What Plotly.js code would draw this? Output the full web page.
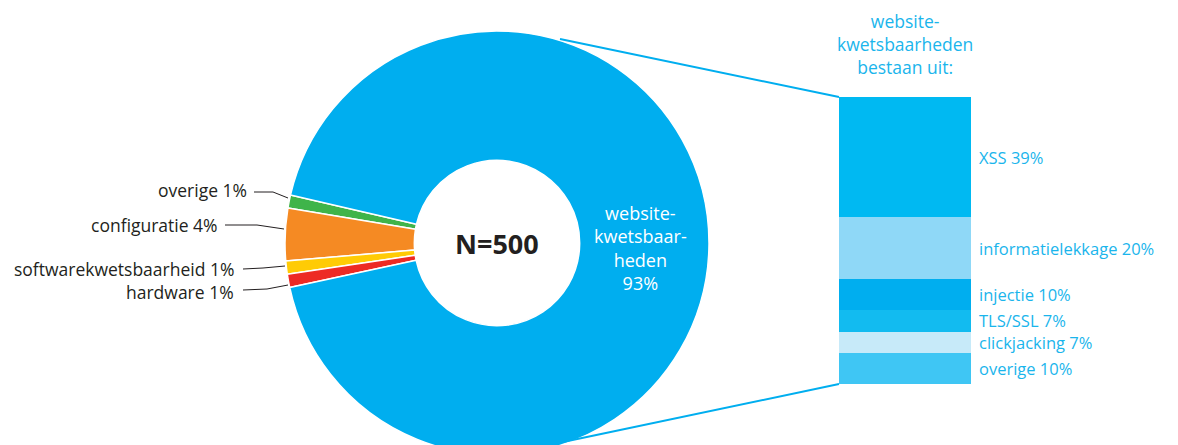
<!DOCTYPE html>
<html>
<head>
<meta charset="utf-8">
<script src="https://cdn.plot.ly/plotly-3.0.1.min.js"></script>
<style>
html,body{margin:0;padding:0;overflow:hidden;background:#fff;width:1178px;height:445px;}
#chart{width:1178px;height:470px;}
</style>
</head>
<body>
<div id="chart"></div>
<script>
// ---- data ----
var pieLabels = ['overige', 'configuratie', 'softwarekwetsbaarheid', 'hardware', 'website-kwetsbaarheden'];
var pieValues = [1, 4, 1, 1, 93];
var pieColors = ['#3fb44a', '#f58a23', '#ffcb05', '#ed2a24', '#00aeef'];
var pieTexts = ['overige 1%', 'configuratie 4%', 'softwarekwetsbaarheid 1%', 'hardware 1%', 'website-<br>kwetsbaar-<br>heden<br>93%'];

var barLabels = ['XSS', 'informatielekkage', 'injectie', 'TLS/SSL', 'clickjacking', 'overige'];
var barValues = [39, 20, 10, 7, 7, 10];
var barColors = ['#00b9f2', '#8fd8f7', '#00aeef', '#12bbf0', '#c7eaf9', '#3fc6f4'];
var barTitle = 'website-<br>kwetsbaarheden<br>bestaan uit:';
var centerText = 'N=500';

// ---- geometry helpers (page pixels -> paper) ----
var W = 1178, H = 470;
function px(x) { return x / W; }
function py(y) { return 1 - y / H; }

var traces = [];
traces.push({
  type: 'pie',
  labels: pieLabels,
  values: pieValues,
  sort: false,
  direction: 'counterclockwise',
  rotation: -80.5,
  hole: 0.39,
  textinfo: 'none',
  hoverinfo: 'none',
  marker: {colors: pieColors, line: {color: '#ffffff', width: 1.5}},
  domain: {x: [px(285), px(709)], y: [py(455), py(31)]},
  showlegend: false
});

var total = barValues.reduce(function (a, b) { return a + b; }, 0);
for (var i = 0; i < barLabels.length; i++) {
  traces.push({
    type: 'bar',
    x: ['w'],
    y: [barValues[i]],
    name: barLabels[i],
    width: 1,
    marker: {color: barColors[i], line: {width: 0}},
    hoverinfo: 'none',
    showlegend: false,
    xaxis: 'x',
    yaxis: 'y'
  });
}

var annotations = [];
var txtFont = 'Open Sans, sans-serif';
// bar labels
var cum = 0;
for (var j = 0; j < barLabels.length; j++) {
  var mid = cum + barValues[j] / 2;
  cum += barValues[j];
  annotations.push({
    xref: 'x', yref: 'y', x: 0.5, y: mid, xanchor: 'left', yanchor: 'middle',
    xshift: 7, showarrow: false, borderpad: 0,
    text: barLabels[j] + ' ' + barValues[j] + '%',
    font: {family: txtFont, size: 16.5, color: '#1ab5ec'}
  });
}
// bar title
annotations.push({
  xref: 'paper', yref: 'paper', x: px(905), y: py(44), xanchor: 'center', yanchor: 'middle',
  showarrow: false, text: barTitle, font: {family: txtFont, size: 17.5, color: '#1ab5ec'}
});
// center text
annotations.push({
  xref: 'paper', yref: 'paper', x: px(497), y: py(243), xanchor: 'center', yanchor: 'middle',
  showarrow: false, text: '<b>' + centerText + '</b>', font: {family: txtFont, size: 27, color: '#231f20'}
});
// big slice label
annotations.push({
  xref: 'paper', yref: 'paper', x: px(640), y: py(248), xanchor: 'center', yanchor: 'middle',
  showarrow: false, text: pieTexts[4], font: {family: txtFont, size: 18, color: '#ffffff'}
});
// small slice labels
var smallLabelPos = [[248, 190], [219, 225], [235, 268.5], [235, 291.5]];
for (var k = 0; k < 4; k++) {
  annotations.push({
    xref: 'paper', yref: 'paper', x: px(smallLabelPos[k][0]), y: py(smallLabelPos[k][1]),
    xanchor: 'right', yanchor: 'middle', showarrow: false, text: pieTexts[k],
    borderpad: 0,
    font: {family: txtFont, size: 17.5, color: '#231f20'}
  });
}

function pathOf(pts) {
  return pts.map(function (p, i) { return (i ? 'L' : 'M') + px(p[0]) + ',' + py(p[1]); }).join(' ');
}
var leaders = [
  [[254, 192], [273, 192], [288, 198]],
  [[225, 225], [257, 225], [284, 229]],
  [[243, 269], [263, 268], [285, 266]],
  [[243, 290], [267, 289], [288, 285]]
];
var shapes = leaders.map(function (l) {
  return {type: 'path', xref: 'paper', yref: 'paper', path: pathOf(l), line: {color: '#231f20', width: 1}};
});
shapes.push({type: 'line', xref: 'paper', yref: 'paper', x0: px(560), y0: py(39), x1: px(839), y1: py(97), line: {color: '#00aeef', width: 2}});
shapes.push({type: 'line', xref: 'paper', yref: 'paper', x0: px(563), y0: py(442), x1: px(839), y1: py(384), line: {color: '#00aeef', width: 2}});

var layout = {
  width: W, height: H,
  margin: {l: 0, r: 0, t: 0, b: 0},
  paper_bgcolor: '#ffffff', plot_bgcolor: 'rgba(0,0,0,0)',
  barmode: 'stack',
  bargap: 0,
  showlegend: false,
  xaxis: {domain: [px(839), px(971)], range: [-0.5, 0.5], visible: false, fixedrange: true},
  yaxis: {domain: [py(384), py(97)], range: [total, 0], visible: false, fixedrange: true},
  annotations: annotations,
  shapes: shapes
};

Plotly.newPlot('chart', traces, layout, {displayModeBar: false, staticPlot: true});
</script>
</body>
</html>
